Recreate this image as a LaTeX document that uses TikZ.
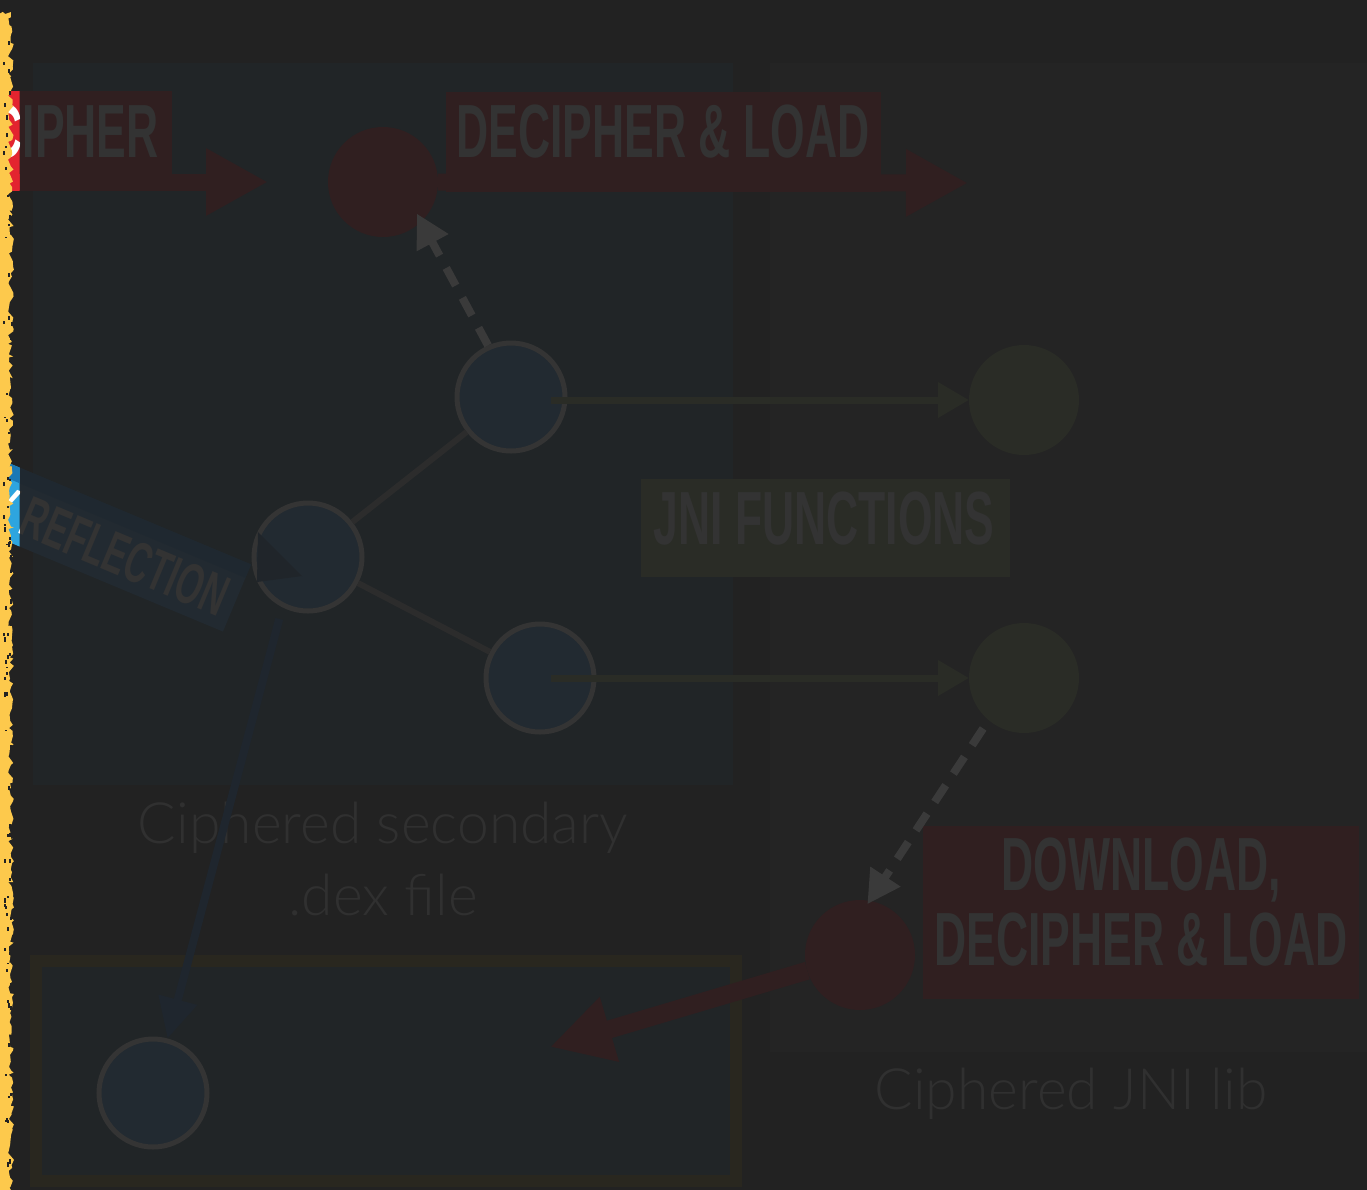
\documentclass[tikz,border=0pt]{standalone}
\usepackage{fontspec}
\usepackage{tikz}
\usepackage{xcolor}
\usetikzlibrary{arrows.meta,decorations.pathmorphing}

\newfontfamily\labelfont{Liberation Sans}
\newfontfamily\capfont{Lato Light}

\definecolor{bgcol}{HTML}{222222}
\definecolor{dexpanel}{HTML}{212527}
\definecolor{libpanel}{HTML}{242424}
\definecolor{redlab}{HTML}{301F20}
\definecolor{redbright}{HTML}{E3242F}
\definecolor{bluelab}{HTML}{222A31}
\definecolor{blueshaft}{HTML}{1F2830}
\definecolor{bluebright}{HTML}{2EA5DF}
\definecolor{blueshaftbright}{HTML}{1A78B5}
\definecolor{nodeblue}{HTML}{222A31}
\definecolor{nodeborder}{HTML}{343434}
\definecolor{edgegray}{HTML}{2C2C2C}
\definecolor{dashgray}{HTML}{3A3A3A}
\definecolor{olivelab}{HTML}{2A2C26}
\definecolor{labgray}{HTML}{333333}
\definecolor{capgray}{HTML}{303030}
\definecolor{reflcol}{HTML}{1F262E}
\definecolor{reflhead}{HTML}{20252A}
\definecolor{boxborder}{HTML}{29271F}
\definecolor{chalk}{HTML}{FDC94C}

\tikzset{
    dexnode/.style={circle, fill=nodeblue, draw=nodeborder, line width=2.5pt,
      minimum size=54pt, inner sep=0pt},
    libnode/.style={circle, fill=olivelab, minimum size=55pt, inner sep=0pt, outer sep=0pt},
    keynode/.style={circle, fill=redlab, minimum size=55pt, inner sep=0pt, outer sep=0pt},
    labtext/.style={font=\labelfont\bfseries\fontsize{37.7}{37.5}\selectfont,
      text=labgray, xscale=0.59, inner sep=0pt, anchor=base},
    captext/.style={font=\capfont\fontsize{28.5}{36}\selectfont, text=capgray,
      inner sep=0pt, anchor=base, align=center},
    keyarrow/.style={line width=8.5pt, -{Triangle[length=31pt, width=31.5pt]}},
    jniarrow/.style={olivelab, line width=3.5pt, -{Triangle[length=15.5pt, width=17pt]}},
    callarrow/.style={dashgray, line width=4pt, dash pattern=on 10pt off 7pt,
      -{Triangle[length=16.5pt, width=17pt]}},
    reflarrow/.style={reflcol, line width=4pt, -{Triangle[length=20pt, width=19pt]}},
    dexedge/.style={edgegray, line width=3pt}
}

\begin{document}
\begin{tikzpicture}[x=0.5pt, y=-0.5pt]
    \useasboundingbox (0,0) rectangle (1367,1190);
    \fill [bgcol] (0,0) rectangle (1367,1190);
    %% the two files and the target box
    \fill [dexpanel] (33,63) rectangle (733,785);
    \fill [libpanel] (770,63) rectangle (1367,1052);
    \draw [boxborder, line width=6pt, fill=dexpanel] (36,961) rectangle (736,1181);
    \node [captext] (dexcap) at (383,915) {Ciphered secondary\\.dex file};
    \node [captext] (libcap) at (1071,1109) {Ciphered JNI lib};

    %% labels
    \fill [redlab] (446,92) rectangle (881,192);
    \node [labtext] (loadlab) at (663,157) {DECIPHER \& LOAD};
    \fill [olivelab] (641,479) rectangle (1010,577);
    \node [labtext] (jnilab) at (824,544) {JNI FUNCTIONS};
    \fill [redlab] (923,826) rectangle (1359,999);
    \node [labtext, align=center] (dllab) at (1141,965) {DOWNLOAD,\\DECIPHER \& LOAD};

    %% nodes
    \node [keynode] (loader) at (383,182) {};
    \node [dexnode] (dexup) at (511,397) {};
    \node [dexnode] (dexroot) at (308,557) {};
    \node [dexnode] (dexdown) at (540,678) {};
    \node [libnode] (jniup) at (1024,400) {};
    \node [libnode] (jnidown) at (1024,678) {};
    \node [keynode] (libkey) at (860,955) {};
    \node [dexnode] (target) at (153,1093) {};
    \coordinate (loadend) at (968,183);
    \coordinate (dropend) at (550,1047);
    \coordinate (cipherstart) at (-60,182);
    \coordinate (cipherend) at (268,182);

    %% connectors
    \draw [keyarrow, redlab] (loader) -- (loadend);
    \draw [keyarrow, redlab, line width=9pt] (libkey) -- (dropend);
    \draw [dexedge] (dexroot) -- (dexup);
    \draw [dexedge] (dexroot) -- (dexdown);
    \draw [jniarrow] ([shift={(40,3)}]dexup.center) -- (jniup.west);
    \draw [jniarrow] ([shift={(11,0)}]dexdown.center) -- (jnidown.west);
    \draw [callarrow, shorten >=-4.5pt] (dexup.114) -- (loader.314);
    \draw [callarrow, shorten <=5pt, shorten >=-2pt] (jnidown.230) -- (libkey.80);
    \draw [reflarrow, shorten <=6pt] (dexroot.243) -- (target);
    \fill [reflhead] (258,532) -- (302,576) -- (257,582) -- cycle;

    %% labels coming in from the left edge, dim and then the lit strip
    \foreach \redcol/\bluecol/\shaftcol/\txtcol/\clipx in
      {redlab/bluelab/blueshaft/labgray/1400,
       redbright/bluebright/blueshaftbright/white/19.5} {
      \begin{scope}
        \clip (-60,0) rectangle (\clipx,1190);
        \fill [\redcol] (-60,91) rectangle (172,190);
        \draw [keyarrow, \redcol] (cipherstart) -- (cipherend);
        \node [labtext, text=\txtcol, anchor=base east] (cipherlab) at (159,157) {CIPHER};
        \begin{scope}[shift={(237,598)}, rotate=-22.7]
          \fill [\bluecol] (-400,-36.4) rectangle (0,36.4);
          \fill [\shaftcol] (-400,-36.4) rectangle (0,-22);
          \node [labtext, text=\txtcol, anchor=base east, transform shape,
            font=\labelfont\bfseries\fontsize{29}{30}\selectfont] (refllab)
            at (-10,25) {Y REFLECTION};
        \end{scope}
      \end{scope}
    }

    %% chalk strip
    \fill [chalk, decorate, decoration={random steps, segment length=2pt, amplitude=1.5pt}]
      (-10,12) -- (11,12) -- (11,1200) -- (-10,1200) -- cycle;
    \pgfmathsetseed{3}
    \foreach \i in {1,...,90}
      \fill [bgcol] ({3+8*rnd},{15+1170*rnd}) rectangle ++(2,{1+4*rnd});
\end{tikzpicture}
\end{document}
